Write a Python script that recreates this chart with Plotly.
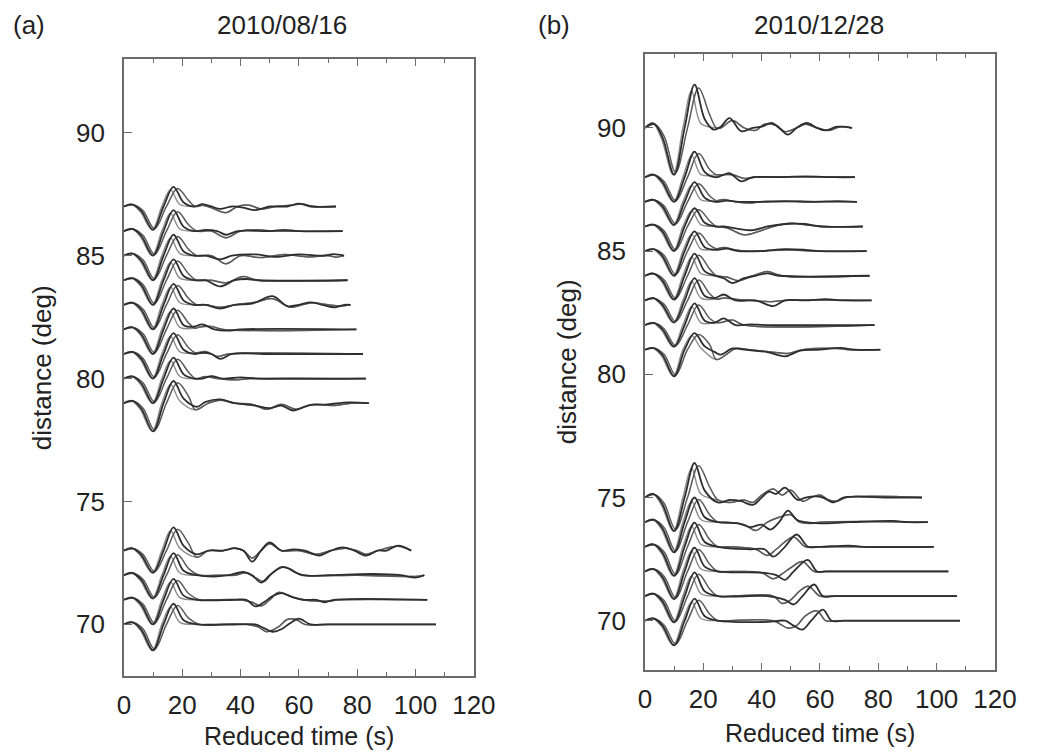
import plotly.graph_objects as go

# ---------------- pulse templates (time knots, normalised amplitude) ----------------
obs_pulse_t = [0, 3, 6, 10, 13.6, 17, 20.5]
obs_pulse_s = [0, 0.10, -0.20, -1.0, 0.0, 1.0, 0.20]
syn1_pulse_t = [0, 3.5, 6.6, 10.5, 14.6, 18.4, 22.2]
syn1_pulse_s = [0, 0.08, -0.18, -0.95, 0.0, 0.92, 0.30]
syn2_pulse_t = [0, 2.6, 5.6, 9.7, 13.0, 16.0, 19.2]
syn2_pulse_s = [0, 0.12, -0.22, -1.0, 0.0, 0.85, 0.10]

# ---------------- panel (a) 2010/08/16 ----------------
a_dist = [87, 86, 85, 84, 83, 82, 81, 80, 79, 73, 72, 71, 70]
a_end = [72.7, 75, 75.5, 76.7, 77.7, 79.7, 82, 83, 84, 98.5, 103, 104, 107]
a_trough = [0.95, 1.0, 1.0, 1.0, 1.0, 1.0, 1.0, 1.0, 1.15, 0.9, 0.95, 1.0, 1.06]
a_peak = [0.8, 0.85, 0.85, 0.85, 0.85, 0.85, 0.85, 0.85, 0.9, 0.95, 0.9, 0.85, 0.84]
a_coda_obs = [
    [(24, 0), (27, 0.1), (30, 0), (33, -0.1), (37, 0), (41, -0.05), (45, -0.15), (50, 0), (56, 0), (60, 0.12), (64, 0)],
    [(24, 0), (28, 0.05), (32, 0), (35, -0.15), (39, 0), (50, 0), (55, 0.05), (60, 0)],
    [(24, 0), (28, 0), (33, -0.15), (37, 0), (45, 0.05), (52, -0.05), (60, 0.05), (68, 0), (72, 0.06)],
    [(24, 0), (28, 0), (33, -0.25), (38, 0), (42, 0.05), (46, 0)],
    [(24, 0), (28, 0), (33, -0.15), (38, 0), (44, 0.05), (51, 0.35), (56, -0.05), (60, 0), (64, 0.1), (68, 0), (72.5, -0.1), (75.5, 0)],
    [(23.5, 0.1), (27, 0.2), (31, 0), (36, -0.05), (40, 0)],
    [(24, 0), (27, 0.05), (30, 0), (33, -0.2), (37, 0), (42, 0.03), (48, 0)],
    [(24, 0), (27, 0), (30, 0.1), (34, 0), (40, 0.05), (46, 0)],
    [(25, -0.15), (28, 0.05), (33, 0.15), (38, 0), (45, -0.1), (50, -0.2), (54, -0.1), (58, -0.3), (63, -0.1), (70, -0.05), (77, 0.03)],
    [(25, -0.15), (29, 0), (34, 0), (38, 0.1), (41, 0), (44, -0.45), (47, 0), (50, 0.33), (54, 0), (58, 0.05), (62, 0), (67, -0.2), (71, 0), (75, 0.13), (79, 0), (83, -0.2), (87, 0), (90, 0), (94, 0.2)],
    [(25, 0), (32, -0.05), (36, 0), (41, 0.13), (44, 0), (47, -0.3), (50, 0), (54, 0.33), (57, 0.25), (61, 0), (70, 0), (85, 0.05), (95, 0), (100, -0.1)],
    [(25, 0), (38, 0), (42, 0), (45, -0.27), (48, -0.1), (51, 0.15), (54, 0.27), (58, 0.1), (62, 0), (66, 0), (69, -0.1), (72, 0)],
    [(25, 0), (40, 0), (45, 0), (48, -0.15), (51, -0.3), (54, -0.2), (57, 0.05), (60, 0.23), (64, 0), (70, 0)],
]
a_coda_syn = [
    [(24.5, 0), (27, 0.05), (30, -0.05), (35, -0.25), (39, 0), (43, 0.05), (47, -0.1), (52, 0), (57, 0.05), (61, 0.1), (65, 0)],
    [(25, 0), (30, 0), (35, -0.27), (40, 0), (46, 0.05), (52, 0)],
    [(25, 0), (30, 0), (35, -0.33), (40, 0), (47, -0.08), (55, 0.05), (63, -0.05), (70, 0), (73, -0.06)],
    [(25, 0), (30, 0), (35, -0.1), (41, 0.15), (46, 0)],
    [(25, 0), (28, 0), (33, -0.1), (38, 0), (45, 0.1), (51, 0.25), (57, -0.1), (61, 0), (65, 0.08), (70, 0), (74, -0.05)],
    [(24.5, 0.05), (26, 0.1), (30, 0.12), (34, 0)],
    [(24.5, 0.05), (28, 0.1), (32, -0.1), (36, 0)],
    [(24.5, 0), (28, 0.08), (32, 0), (38, -0.05), (44, 0)],
    [(24.5, -0.27), (29, 0), (33, 0.12), (38, 0), (44, -0.05), (49, -0.25), (54, -0.05), (59, -0.25), (65, -0.05), (72, -0.1), (78, 0)],
    [(25, -0.27), (29, 0), (34, 0), (38, 0.1), (41, 0), (44, -0.3), (47, 0), (50, 0.28), (54, 0), (60, 0), (66, -0.15), (71, 0), (76, 0.1), (80, 0), (83, -0.15), (87, 0), (94, 0.18)],
    [(26, 0), (33, 0), (38, 0), (42, 0.1), (45, -0.1), (48, -0.25), (51, 0.1), (55, 0.33), (59, 0.1), (62, 0), (80, 0), (100, -0.05)],
    [(26, 0), (30, 0), (40, 0), (44, -0.1), (47, -0.25), (50, 0), (53, 0.3), (57, 0.15), (61, 0), (70, -0.05), (74, 0)],
    [(26, 0), (30, 0), (42, 0), (46, -0.1), (49, -0.3), (53, -0.1), (56, 0.2), (59, 0.2), (62, 0), (70, 0)],
]

# ---------------- panel (b) 2010/12/28 ----------------
b_dist = [90, 88, 87, 86, 85, 84, 83, 82, 81, 75, 74, 73, 72, 71, 70]
b_end = [71, 72, 72.7, 74.7, 76, 77, 77.7, 78.7, 80.7, 95, 97, 99, 104, 107, 108]
b_trough = [1.9, 1.0, 0.94, 1.0, 1.0, 0.97, 0.9, 0.88, 1.08, 1.36, 1.23, 1.18, 1.12, 1.07, 1.0]
b_peak = [1.76, 1.04, 0.8, 0.74, 0.8, 0.9, 0.9, 0.88, 0.67, 1.4, 1.0, 0.98, 0.97, 0.96, 0.9]
b_coda_obs = [
    [(23.6, -0.07), (26, 0.05), (29, 0.4), (33, -0.13), (37, 0), (40, 0.05), (43.5, 0.2), (46, 0), (49, -0.27), (52, 0), (55.5, 0.2), (59, 0), (62, -0.1), (66, 0.05)],
    [(24, 0), (26, 0.05), (29, 0.16), (33, -0.17), (37, 0), (45, 0), (55, 0.03), (65, 0)],
    [(24, 0), (28, 0.05), (32, 0), (38, 0), (48, 0.03), (58, 0), (66, 0.03)],
    [(24, 0), (27, 0), (32, -0.1), (37, -0.15), (42, 0), (48, 0.1), (55, 0.1), (60, 0)],
    [(24, 0.05), (28, 0.1), (32, 0), (40, 0), (48, 0.08), (55, 0.05), (60, 0)],
    [(24, 0), (27, -0.1), (30, -0.3), (34, -0.1), (38, 0), (42, 0.1), (46, 0)],
    [(24, 0.1), (27, 0.24), (31, 0), (38, 0), (44, -0.23), (48, 0), (55, 0), (62, 0.05), (68, 0)],
    [(24, 0.1), (27, 0.27), (31, 0), (36, 0.03), (42, 0)],
    [(24, -0.1), (26, -0.2), (30, 0.05), (34, 0), (42, -0.1), (48, -0.27), (53, -0.05), (60, 0), (67, 0.07), (72, 0)],
    [(25, -0.2), (29, -0.1), (33, -0.15), (37, -0.3), (40, 0), (42.5, 0.24), (45, 0.15), (48, 0.4), (52.4, -0.1), (55, 0), (58.5, 0.05), (61, 0), (64.7, -0.2), (68, 0), (75, 0.03), (82, 0)],
    [(25, 0), (32, -0.05), (36, -0.2), (40, -0.1), (43, -0.3), (46, 0), (49, 0.47), (52, 0.1), (55, 0), (60, -0.05), (70, 0), (85, 0.05), (90, 0)],
    [(25, 0), (36, -0.1), (41, -0.1), (44, -0.4), (48, 0), (52, 0.5), (56, 0), (60, 0), (70, 0.05), (75, 0)],
    [(25, 0), (40, -0.05), (45, -0.15), (48, -0.34), (51, 0), (55.8, 0.47), (59, 0), (62, 0)],
    [(25, 0), (42, 0), (48, -0.15), (51, -0.34), (54, 0), (58, 0.47), (61, 0), (65, 0)],
    [(25, 0), (42, -0.05), (48, 0), (51, -0.2), (54, -0.36), (57, 0), (61, 0.45), (64, 0), (68, 0)],
]
b_coda_syn = [
    [(24.5, 0), (26, 0), (30, 0.3), (34, 0), (38, -0.1), (41, 0.15), (45, 0.1), (48, -0.15), (52, 0), (55, 0.15), (59, 0), (63, -0.1), (67, 0.05)],
    [(24.5, 0.1), (26, 0.1), (30, 0.1), (34, -0.05), (38, 0)],
    [(24.5, 0.05), (27, 0.1), (31, 0), (36, -0.05), (40, 0)],
    [(24.5, 0), (28, -0.05), (34, -0.34), (39, -0.2), (44, 0), (50, 0.13), (56, 0.05), (62, 0)],
    [(24.5, 0.1), (27, 0.15), (31, 0.05), (35, 0), (50, 0.05), (58, 0)],
    [(24.5, 0), (28, -0.05), (32, -0.2), (37, 0), (42, 0.17), (47, 0)],
    [(24.5, 0.05), (27, 0.1), (31, 0.05), (36, 0), (43, -0.05), (48, 0)],
    [(24.5, 0.1), (26, 0.1), (30, 0.2), (34, 0)],
    [(24.5, -0.4), (29, -0.1), (31, 0.05), (36, 0), (44, -0.1), (49, -0.15), (54, 0), (66, 0.05), (70, 0)],
    [(25, -0.1), (29, -0.2), (34, -0.1), (37, -0.2), (40, 0.1), (44, 0.35), (47, 0.1), (50, 0.3), (54, -0.15), (57, 0), (60, 0.1), (63, -0.1), (66, -0.15), (69, 0)],
    [(25, 0), (28, 0), (34, -0.1), (38, -0.34), (42, 0), (46, 0.2), (50, 0.3), (53, 0), (57, -0.05), (60, 0)],
    [(25, 0), (30, 0), (38, -0.1), (42, -0.35), (45, -0.1), (48, 0.2), (51, 0.4), (55, 0), (58, 0)],
    [(25, 0), (30, 0), (40, -0.05), (44, -0.3), (47, -0.1), (50, 0.15), (54, 0.4), (58, 0), (62, 0)],
    [(25, 0), (30, 0), (44, 0), (47, -0.3), (50, -0.15), (53, 0.2), (56, 0.4), (60, 0), (64, 0)],
    [(25, 0), (28, 0), (44, 0), (49, -0.3), (52, -0.2), (55, 0.2), (59, 0.4), (62, 0), (66, 0)],
]

FONT = "Liberation Sans, Arial, Helvetica, sans-serif"
AXC = "#6b6b6b"
FS = 26
line_styles = [("#8c8c8c", 1.4), ("#5a5a5a", 1.5), ("#2e2e2e", 1.8)]


def build(pt, ps, trough, peak, coda, end, dist):
    t = list(pt)
    a = [s * peak if s > 0 else s * trough for s in ps]
    for ct, ca in coda:
        t.append(ct)
        a.append(ca)
    t.append(end)
    a.append(0.0)
    return t, [dist + v for v in a]


fig = go.Figure()


def add_panel(dist, end, trough, peak, coda_obs, coda_syn, xa, ya):
    for i, d in enumerate(dist):
        sets = [
            (syn2_pulse_t, syn2_pulse_s, coda_syn[i], line_styles[0]),
            (syn1_pulse_t, syn1_pulse_s, coda_syn[i], line_styles[1]),
            (obs_pulse_t, obs_pulse_s, coda_obs[i], line_styles[2]),
        ]
        for pt, ps, coda, (col, w) in sets:
            x, y = build(pt, ps, trough[i], peak[i], coda, end[i], d)
            fig.add_trace(go.Scatter(x=x, y=y, mode="lines", xaxis=xa, yaxis=ya,
                                     line=dict(color=col, width=w, shape="spline", smoothing=1.0),
                                     hoverinfo="skip", showlegend=False))


add_panel(a_dist, a_end, a_trough, a_peak, a_coda_obs, a_coda_syn, "x", "y")
add_panel(b_dist, b_end, b_trough, b_peak, b_coda_obs, b_coda_syn, "x2", "y2")

W, H = 1042, 753
OFF = 8  # page body margin offset of the rendered figure
x_ticks = [0, 20, 40, 60, 80, 100, 120]
y_ticks = [70, 75, 80, 85, 90]


def px_x(X):
    return (X - OFF) / W


def px_y(Y):
    return 1 - (Y - OFF) / H


def xaxis(dom, anchor):
    return dict(domain=dom, anchor=anchor, range=[0, 120], tickvals=x_ticks, ticktext=[str(v) for v in x_ticks],
                showgrid=False, zeroline=False, showline=True, linecolor=AXC, linewidth=1.6, mirror="allticks",
                ticks="inside", ticklen=7, tickwidth=1.3, tickcolor=AXC, ticklabelstandoff=5,
                minor=dict(dtick=10, ticks="inside", ticklen=4, tickwidth=1.2, tickcolor=AXC),
                tickfont=dict(family=FONT, size=FS, color="#222"))


def yaxis(dom, anchor, rng):
    return dict(domain=dom, anchor=anchor, range=rng, tickvals=y_ticks, ticktext=[str(v) for v in y_ticks],
                showgrid=False, zeroline=False, showline=True, linecolor=AXC, linewidth=1.6, mirror=True,
                ticks="inside", ticklen=8, tickwidth=1.3, tickcolor=AXC, ticklabelstandoff=12,
                tickfont=dict(family=FONT, size=FS, color="#222"))


fig.update_layout(
    width=W, height=H, margin=dict(l=0, r=0, t=0, b=0),
    plot_bgcolor="white", paper_bgcolor="white", showlegend=False,
    xaxis=xaxis([px_x(120), px_x(480)], "y"),
    yaxis=yaxis([px_y(676), px_y(59)], "x", [67.9, 93]),
    xaxis2=xaxis([px_x(656), px_x(1016)], "y2"),
    yaxis2=yaxis([px_y(670), px_y(54)], "x2", [68, 93]),
)


def ann(text, X, Y, size=FS, angle=0):
    fig.add_annotation(text=text, x=px_x(X), y=px_y(Y), xref="paper", yref="paper", showarrow=False,
                       xanchor="center", yanchor="middle", textangle=angle,
                       font=dict(family=FONT, size=size, color="#222"))


ann("(a)", 22, 25)
ann("2010/08/16", 283, 25)
ann("(b)", 562, 25)
ann("2010/12/28", 835, 25)
ann("Reduced time (s)", 300, 736, size=25)
ann("Reduced time (s)", 836, 733, size=25)
ann("distance (deg)", 36, 368, angle=-90)
ann("distance (deg)", 576, 362, angle=-90)

fig.write_html("out.html")
